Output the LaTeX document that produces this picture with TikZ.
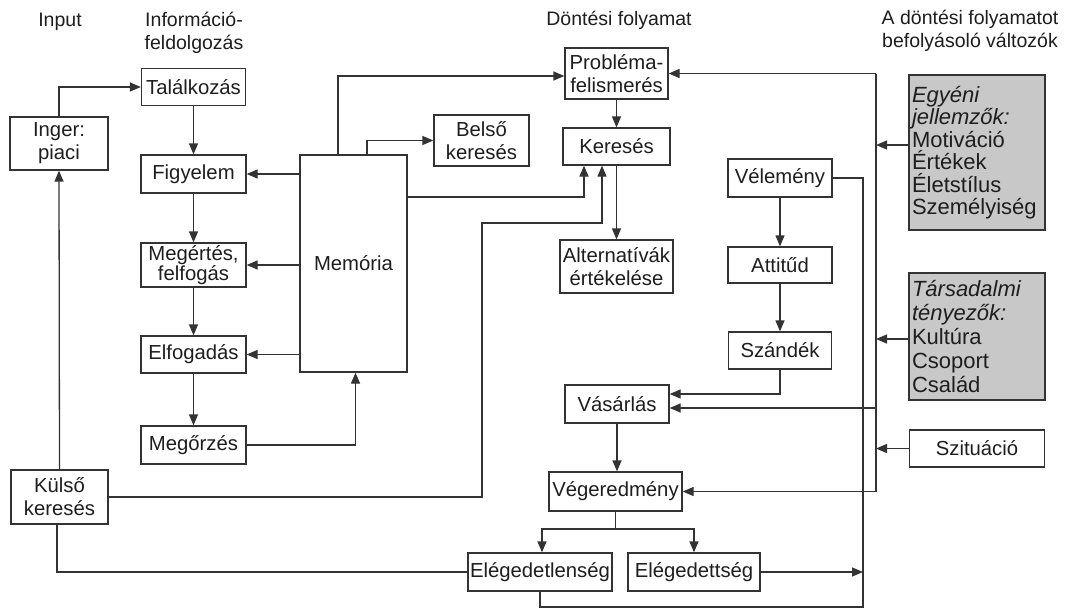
\documentclass[tikz,border=0pt]{standalone}
\usepackage{fontspec}
\setmainfont{Liberation Sans}
\usetikzlibrary{arrows.meta}
\definecolor{linec}{HTML}{333333}
\definecolor{txtc}{HTML}{1E1E1E}
\definecolor{grayfill}{HTML}{C8C8C8}
\begin{document}
\begin{tikzpicture}[x=1pt,y=-1pt,
  every node/.style={text=txtc, font=\fontsize{20.3}{23}\selectfont},
  box/.style={draw=linec, line width=1.3pt, fill=white, align=center, inner sep=0pt},
  gbox/.style={draw=linec, line width=1.3pt, fill=grayfill, align=left, inner sep=3pt, text width=130pt},
  hdr/.style={align=center, inner sep=0pt},
  conn/.style={draw=linec, line width=1.3pt},
  arr/.style={conn, -{Triangle[length=11pt,width=9pt]}}]
\fill[white] (0,0) rectangle (1067,610);
\useasboundingbox (0,0) rectangle (1067,610);

% headers
\node[hdr, font=\fontsize{19.5}{23}\selectfont] (hInput) at (60,22) {Input};
\node[hdr, font=\fontsize{19.5}{23}\selectfont] (hInfo) at (194,33) {Információ-\\feldolgozás};
\node[hdr, font=\fontsize{19.5}{23}\selectfont] (hDont) at (619,20) {Döntési folyamat};
\node[hdr, font=\fontsize{19.5}{23}\selectfont] (hVal) at (970,31) {A döntési folyamatot\\befolyásoló változók};

% left column
\node[box, minimum width=98pt, minimum height=53pt] (inger) at (59,143.5) {Inger:\\piaci};
\node[box, minimum width=97pt, minimum height=54pt] (kulso) at (59.5,497) {Külső\\keresés};

% information processing
\node[box, minimum width=104pt, minimum height=37pt] (tal) at (193.5,87) {Találkozás};
\node[box, minimum width=105pt, minimum height=38pt] (figy) at (193.5,174) {Figyelem};
\node[box, minimum width=105pt, minimum height=44pt, font=\fontsize{20.3}{19}\selectfont] (meg) at (193.5,265) {Megértés,\\felfogás};
\node[box, minimum width=105pt, minimum height=37pt] (elf) at (193.5,354.5) {Elfogadás};
\node[box, minimum width=105pt, minimum height=38pt] (megor) at (193.5,445) {Megőrzés};

\node[box, minimum width=107pt, minimum height=217pt] (mem) at (353.5,263.5) {Memória};
\node[box, minimum width=95pt, minimum height=51pt] (belso) at (481.5,140.5) {Belső\\keresés};

% decision process
\node[box, minimum width=103pt, minimum height=51pt] (prob) at (616.5,73.5) {Probléma-\\felismerés};
\node[box, minimum width=107pt, minimum height=37pt] (ker) at (616.5,146.5) {Keresés};
\node[box, minimum width=113pt, minimum height=53pt] (alt) at (616.5,266.5) {Alternatívák\\értékelése};

\node[box, minimum width=104pt, minimum height=38pt] (vel) at (780,178) {Vélemény};
\node[box, minimum width=104pt, minimum height=36pt] (att) at (780,265) {Attitűd};
\node[box, minimum width=103pt, minimum height=37pt] (szan) at (780,350.5) {Szándék};

\node[box, minimum width=104pt, minimum height=38pt] (vas) at (617,404) {Vásárlás};
\node[box, minimum width=133pt, minimum height=39pt] (veg) at (615.5,491.5) {Végeredmény};
\node[box, minimum width=144pt, minimum height=38pt] (eldn) at (540,572) {Elégedetlenség};
\node[box, minimum width=132pt, minimum height=38pt] (eld) at (694,572) {Elégedettség};

% influencing variables
\node[gbox, minimum height=155pt, font=\fontsize{22}{22.5}\selectfont] (egy) at (977,152.5) {\textit{Egyéni}\\\textit{jellemzők:}\\Motiváció\\Értékek\\Életstílus\\Személyiség};
\node[gbox, minimum height=127pt, font=\fontsize{22}{24}\selectfont] (tars) at (977,336.5) {\textit{Társadalmi}\\\textit{tényezők:}\\Kultúra\\Csoport\\Család};
\node[box, minimum width=135pt, minimum height=37pt] (szit) at (977,448.5) {Szituáció};

% coordinates
\coordinate (bt) at (876,73.5);
\coordinate (bb) at (876,491.5);
\coordinate (vr) at (863,607);
\coordinate (split) at (615.5,529);

% input connectors
\draw[arr] (inger.north) |- (tal.west);
\draw[arr] (kulso.north) -- (inger.south);

% processing chain
\draw[arr] (tal.south) -- (tal.south |- figy.north);
\draw[arr] (figy.south) -- (figy.south |- meg.north);
\draw[arr] (meg.south) -- (meg.south |- elf.north);
\draw[arr] (elf.south) -- (elf.south |- megor.north);

% memory
\draw[arr] (mem.west |- figy.east) -- (figy.east);
\draw[arr] (mem.west |- meg.east) -- (meg.east);
\draw[arr] (mem.west |- elf.east) -- (elf.east);
\draw[arr] (megor.east) -| ([xshift=2pt]mem.south);
\draw[arr] ([xshift=-15.5pt]mem.north) |- ([yshift=-2.5pt]prob.west);
\draw[arr] ([xshift=13.5pt]mem.north) |- (belso.west);
\draw[arr] (mem.east |- 0,197) -| ([xshift=-32.5pt]ker.south);
\draw[arr] (kulso.east) -| (482,223) -| ([xshift=-14.5pt]ker.south);

% decision chain
\draw[arr] (prob.south) -- (prob.south |- ker.north);
\draw[arr] (ker.south) -- (ker.south |- alt.north);
\draw[arr] (vel.south) -- (att.north);
\draw[arr] (att.south) -- (szan.north);
\draw[arr] (szan.south) |- ([yshift=10pt]vas.east);
\draw[arr] (vas.south) -- (vas.south |- veg.north);
\draw[conn] (veg.south) -- (split);
\draw[arr] (split) -| ([xshift=2pt]eldn.north);
\draw[arr] (split) -| (eld.north);

% right bus
\draw[conn] (bt) -- (bb);
\draw[arr] (bt) -- (prob.east);
\draw[arr] (bb) -- (veg.east);
\draw[arr] (bb |- 0,408) -- ([yshift=-4pt]vas.east);
\draw[arr] (egy.west |- 0,145) -- (bt |- 0,145);
\draw[arr] (tars.west |- 0,339) -- (bt |- 0,339);
\draw[arr] (szit.west) -- (bt |- szit.west);

% feedback
\draw[arr] (eld.east) -- (vr |- eld.east);
\draw[conn] (eldn.south) |- (vr) |- (vel.east);
\draw[conn] (eldn.west) -| ([xshift=-2.5pt]kulso.south);
\end{tikzpicture}
\end{document}
